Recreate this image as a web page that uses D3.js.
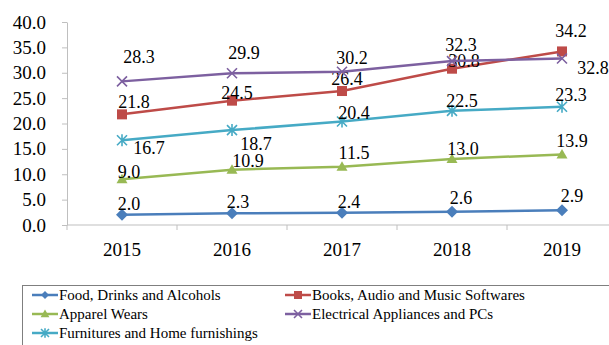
<!DOCTYPE html>
<html>
<head>
<meta charset="utf-8">
<script src="https://cdn.jsdelivr.net/npm/d3@7"></script>
<style>
  body { margin: 0; background: #fff; }
</style>
</head>
<body>
<svg id="chart"></svg>
<script>
// data
const years = ["2015", "2016", "2017", "2018", "2019"];
const seriesNames = [
  "Food, Drinks and Alcohols",
  "Books, Audio and Music Softwares",
  "Apparel Wears",
  "Electrical Appliances and PCs",
  "Furnitures and Home furnishings"
];
const food = [2.0, 2.3, 2.4, 2.6, 2.9];
const books = [21.8, 24.5, 26.4, 30.8, 34.2];
const apparel = [9.0, 10.9, 11.5, 13.0, 13.9];
const electrical = [28.3, 29.9, 30.2, 32.3, 32.8];
const furniture = [16.7, 18.7, 20.4, 22.5, 23.3];
const yTicks = [0, 5, 10, 15, 20, 25, 30, 35, 40];

// label nudges (px) so the numbers sit where the original put them
const labelOffsets = [
  [[7, -5], [6, -5], [7, -5], [9, -8], [10, -8]],
  [[12, -6], [5, -2], [5, -6], [12, -2], [9, -14]],
  [[7, -1], [16, -3], [12, -8], [11, -4], [10, -7]],
  [[17, -18], [12, -14], [10, -8], [9, -10], [31, 15]],
  [[27, 14], [24, 20], [12, -2], [10, -4], [9, -6]]
];

const colors = ["#4a7ebb", "#be4b48", "#98b954", "#7d60a0", "#46aac5"];
const markers = ["diamond", "square", "triangle", "cross", "star"];
const values = [food, books, apparel, electrical, furniture];

const series = seriesNames.map((name, k) => ({
  name, color: colors[k], marker: markers[k],
  points: years.map((yr, i) => ({year: yr, value: values[k][i], off: labelOffsets[k][i]}))
}));

const width = 609, height = 345;
const marginLeft = 67, marginTop = 22, plotBottom = 225;
const serif = "'Liberation Serif', 'Times New Roman', serif";

const svg = d3.select("#chart")
    .attr("width", width)
    .attr("height", height)
    .attr("viewBox", [0, 0, width, height]);

const x = d3.scaleBand()
    .domain(years)
    .range([marginLeft, marginLeft + 110 * years.length])
    .padding(0);
const cx = d => x(d) + x.bandwidth() / 2;

const y = d3.scaleLinear()
    .domain([0, 40])
    .range([plotBottom, marginTop]);

const axisColor = "#bfbfbf";

// y axis
svg.append("g")
    .attr("transform", `translate(${marginLeft},0)`)
    .call(d3.axisLeft(y).tickValues(yTicks).tickFormat(d3.format(".1f")).tickSize(5).tickPadding(16).tickSizeOuter(0))
    .call(g => g.select(".domain").attr("stroke", axisColor))
    .call(g => g.selectAll(".tick line").attr("stroke", axisColor))
    .call(g => g.selectAll(".tick text")
        .attr("fill", "#000")
        .attr("font-size", 19)
        .style("font-family", serif));

// x axis: line, edge ticks, labels centred in bands
const xg = svg.append("g");
xg.append("line")
    .attr("x1", marginLeft).attr("x2", width)
    .attr("y1", plotBottom).attr("y2", plotBottom)
    .attr("stroke", axisColor);
xg.selectAll(".edge")
  .data(years.concat(["end"]))
  .join("line")
    .attr("x1", (d, i) => i < years.length ? x(d) : x.range()[1])
    .attr("x2", (d, i) => i < years.length ? x(d) : x.range()[1])
    .attr("y1", plotBottom).attr("y2", plotBottom + 5)
    .attr("stroke", axisColor);
xg.selectAll(".lbl")
  .data(years)
  .join("text")
    .attr("x", d => cx(d))
    .attr("y", plotBottom + 31)
    .attr("text-anchor", "middle")
    .attr("font-size", 19)
    .style("font-family", serif)
    .text(d => d);

const line = d3.line()
    .x(d => cx(d.year))
    .y(d => y(d.value));

function drawMarker(g, type, color, size) {
  const s = size;
  if (type === "diamond") {
    g.append("path").attr("d", `M0,${-s}L${s},0L0,${s}L${-s},0Z`).attr("fill", color);
  } else if (type === "square") {
    g.append("rect").attr("x", -s).attr("y", -s).attr("width", 2 * s).attr("height", 2 * s).attr("fill", color);
  } else if (type === "triangle") {
    g.append("path").attr("d", `M0,${-s * 1.1}L${s * 1.1},${s * 0.8}L${-s * 1.1},${s * 0.8}Z`).attr("fill", color);
  } else if (type === "cross") {
    g.append("path").attr("d", `M${-s},${-s}L${s},${s}M${-s},${s}L${s},${-s}`)
        .attr("stroke", color).attr("stroke-width", 1.6).attr("fill", "none");
  } else if (type === "star") {
    g.append("path").attr("d", `M${-s},${-s}L${s},${s}M${-s},${s}L${s},${-s}M0,${-s * 1.2}L0,${s * 1.2}`)
        .attr("stroke", color).attr("stroke-width", 1.6).attr("fill", "none");
  }
}

const sg = svg.append("g")
  .selectAll("g")
  .data(series)
  .join("g");

sg.append("path")
    .attr("fill", "none")
    .attr("stroke", d => d.color)
    .attr("stroke-width", 2.5)
    .attr("d", d => line(d.points));

sg.each(function(s) {
  const g = d3.select(this);
  s.points.forEach(p => {
    const m = g.append("g").attr("transform", `translate(${cx(p.year)},${y(p.value)})`);
    drawMarker(m, s.marker, s.color, s.marker === "diamond" ? 6 : 5);
  });
});

// data labels
sg.each(function(s) {
  d3.select(this).selectAll(".val")
    .data(s.points)
    .join("text")
      .attr("x", p => cx(p.year) + p.off[0])
      .attr("y", p => y(p.value) + p.off[1])
      .attr("text-anchor", "middle")
      .attr("font-size", 18)
      .attr("fill", "#000")
      .style("font-family", serif)
      .text(p => d3.format(".1f")(p.value));
});

// legend
const legend = svg.append("g");
legend.append("rect")
    .attr("x", 22.5).attr("y", 285.5)
    .attr("width", 620).attr("height", 80)
    .attr("fill", "none")
    .attr("stroke", "#7f7f7f");

const legendPos = [[32, 295], [285, 295], [32, 314], [285, 314], [32, 333]];
const li = legend.selectAll(".item")
  .data(series)
  .join("g")
    .attr("transform", (d, i) => `translate(${legendPos[i][0]},${legendPos[i][1]})`);
li.append("line")
    .attr("x1", 0).attr("x2", 26)
    .attr("stroke", d => d.color)
    .attr("stroke-width", 2.5);
li.each(function(d) {
  const m = d3.select(this).append("g").attr("transform", "translate(13,0)");
  drawMarker(m, d.marker, d.color, 4);
});
li.append("text")
    .attr("x", 27)
    .attr("dy", "0.35em")
    .attr("font-size", 15)
    .style("font-family", serif)
    .text(d => d.name);
</script>
</body>
</html>
